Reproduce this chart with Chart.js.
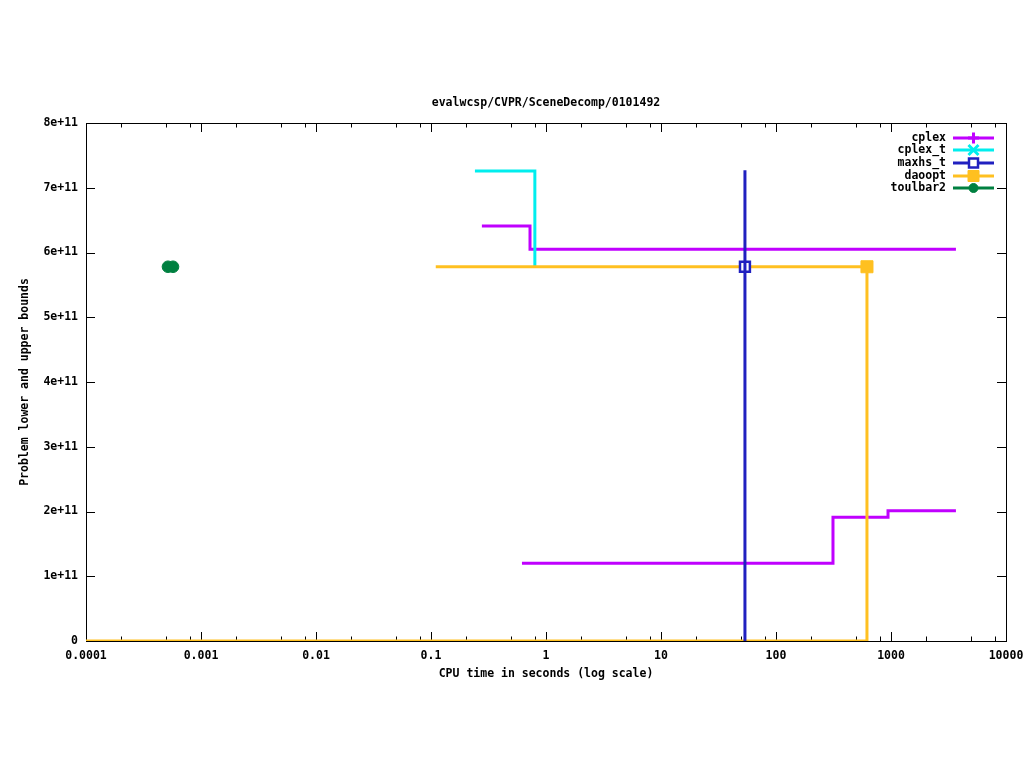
<!DOCTYPE html>
<html>
<head>
<meta charset="utf-8">
<title>evalwcsp/CVPR/SceneDecomp/0101492</title>
<script src="https://cdn.jsdelivr.net/npm/chart.js@4.4.0/dist/chart.umd.min.js"></script>
<style>
  html, body { margin: 0; padding: 0; background: #fff; }
  canvas { display: block; }
</style>
</head>
<body>
<canvas id="chart" width="1024" height="768"></canvas>
<script>
// tiempos (s) y cotas
const cplexUbX = [0.277, 0.726, 3670];
const cplexUbY = [6.41e11, 6.05e11, 6.05e11];
const cplexLbX = [0.618, 313, 942, 3670];
const cplexLbY = [1.20e11, 1.91e11, 2.01e11, 2.01e11];
const cplexTUbX = [0.241, 0.80];
const cplexTUbY = [7.26e11, 5.79e11];
const maxhsTX = [53.7, 53.7, 53.7];
const maxhsTY = [0, 5.78e11, 7.27e11];
const daooptUbX = [0.110, 618];
const daooptUbY = [5.78e11, 5.78e11];
const daooptLbX = [0.0001, 618, 618];
const daooptLbY = [0, 0, 5.78e11];
const toulbar2X = [0.000516, 0.000571];
const toulbar2Y = [5.78e11, 5.78e11];

const xTickLabels = ['0.0001', '0.001', '0.01', '0.1', '1', '10', '100', '1000', '10000'];
const yTickLabels = ['0', '1e+11', '2e+11', '3e+11', '4e+11', '5e+11', '6e+11', '7e+11', '8e+11'];
const xTickValues = xTickLabels.map(Number);
const yTickValues = yTickLabels.map(Number);

const seriesNames = ['cplex', 'cplex_t', 'maxhs_t', 'daoopt', 'toulbar2'];
const seriesColors = ['#c000ff', '#00eeee', '#2020c0', '#ffc020', '#008040'];

const FONT = 'DejaVu Sans Mono';
const FSIZE = 11.5;

function pts(xs, ys) {
    return xs.map((x, i) => ({x: x, y: ys[i]}));
}

// en Chart.js 'before' = horizontal primero, luego el salto vertical
function lineSet(label, color, xs, ys, order, extra) {
    return Object.assign({
        label: label,
        data: pts(xs, ys),
        borderColor: color,
        backgroundColor: color,
        borderWidth: 3,
        stepped: 'before',
        pointRadius: 0,
        fill: false,
        order: order
    }, extra || {});
}

const datasets = [
    lineSet('cplex', seriesColors[0], cplexUbX, cplexUbY, 10),
    lineSet('cplex', seriesColors[0], cplexLbX, cplexLbY, 9),
    lineSet('cplex_t', seriesColors[1], cplexTUbX, cplexTUbY, 8),
    lineSet('daoopt', seriesColors[3], daooptUbX, daooptUbY, 7),
    lineSet('daoopt', seriesColors[3], daooptLbX, daooptLbY, 6, {
        pointRadius: [0, 0, 8.5], pointStyle: 'rect',
        pointBackgroundColor: seriesColors[3], pointBorderColor: seriesColors[3], pointBorderWidth: 1
    }),
    // marcador maxhs_t (cuadro hueco)
    lineSet('maxhs_t', seriesColors[2], [maxhsTX[1]], [maxhsTY[1]], 5, {
        showLine: false, pointRadius: 7, pointStyle: 'rect',
        pointBackgroundColor: '#fff', pointBorderColor: seriesColors[2], pointBorderWidth: 2.5
    }),
    lineSet('maxhs_t', seriesColors[2], maxhsTX, maxhsTY, 4),
    lineSet('toulbar2', seriesColors[4], toulbar2X, toulbar2Y, 3, {
        showLine: false, pointRadius: 5.8, pointStyle: 'circle',
        pointBackgroundColor: seriesColors[4], pointBorderColor: seriesColors[4], pointBorderWidth: 1
    })
];

function marker(ctx, style, x, y, r, color, filled) {
    ctx.save();
    ctx.strokeStyle = color;
    ctx.fillStyle = filled ? color : '#fff';
    ctx.beginPath();
    if (style === 'cross') {
        ctx.lineWidth = 3;
        ctx.moveTo(x - r, y); ctx.lineTo(x + r, y);
        ctx.moveTo(x, y - r); ctx.lineTo(x, y + r);
        ctx.stroke();
    } else if (style === 'crossRot') {
        ctx.lineWidth = 3;
        ctx.moveTo(x - r, y - r); ctx.lineTo(x + r, y + r);
        ctx.moveTo(x - r, y + r); ctx.lineTo(x + r, y - r);
        ctx.stroke();
    } else if (style === 'rect') {
        ctx.lineWidth = filled ? 1 : 2.5;
        ctx.rect(x - r, y - r, 2 * r, 2 * r);
        ctx.fill();
        ctx.stroke();
    } else {
        ctx.lineWidth = 1;
        ctx.arc(x, y, r, 0, Math.PI * 2);
        ctx.fill();
        ctx.stroke();
    }
    ctx.restore();
}

// marco y marcas hacia dentro, estilo gnuplot
const framePlugin = {
    id: 'frame',
    beforeDatasetsDraw(chart) {
        const {ctx, chartArea: a, scales} = chart;
        ctx.save();
        ctx.strokeStyle = '#000';
        ctx.lineWidth = 1;
        ctx.strokeRect(a.left + 0.5, a.top + 0.5, a.right - a.left, a.bottom - a.top);
        ctx.beginPath();
        xTickValues.forEach(v => {
            const px = Math.round(scales.x.getPixelForValue(v)) + 0.5;
            ctx.moveTo(px, a.bottom); ctx.lineTo(px, a.bottom - 9);
            ctx.moveTo(px, a.top); ctx.lineTo(px, a.top + 9);
            if (v < 10000) {
                [2, 5, 8].forEach(m => {
                    const mx = Math.round(scales.x.getPixelForValue(v * m)) + 0.5;
                    ctx.moveTo(mx, a.bottom); ctx.lineTo(mx, a.bottom - 4.5);
                    ctx.moveTo(mx, a.top); ctx.lineTo(mx, a.top + 4.5);
                });
            }
        });
        yTickValues.forEach(v => {
            const py = Math.round(scales.y.getPixelForValue(v)) + 0.5;
            ctx.moveTo(a.left, py); ctx.lineTo(a.left + 9, py);
            ctx.moveTo(a.right, py); ctx.lineTo(a.right - 9, py);
        });
        ctx.stroke();
        ctx.restore();
    }
};

const legendPlugin = {
    id: 'gpLegend',
    afterDraw(chart) {
        const ctx = chart.ctx;
        const styles = ['cross', 'crossRot', 'rect', 'rect', 'circle'];
        const sizes = [5.5, 5, 4.5, 5.5, 4.5];
        const filled = [true, true, false, true, true];
        ctx.save();
        ctx.font = 'bold ' + FSIZE + 'px "' + FONT + '"';
        ctx.textAlign = 'right';
        ctx.textBaseline = 'middle';
        seriesNames.forEach((name, i) => {
            const y = Math.round(137.5 + i * 12.7);
            ctx.fillStyle = '#000';
            ctx.fillText(name, 946, y);
            ctx.strokeStyle = seriesColors[i];
            ctx.lineWidth = 3;
            ctx.beginPath();
            ctx.moveTo(953, y); ctx.lineTo(994, y);
            ctx.stroke();
            marker(ctx, styles[i], 973.5, y, sizes[i], seriesColors[i], filled[i]);
        });
        ctx.restore();
    }
};

const tickFont = { family: FONT, size: FSIZE, weight: 'bold' };

new Chart(document.getElementById('chart'), {
    type: 'line',
    data: { datasets: datasets },
    plugins: [framePlugin, legendPlugin],
    options: {
        responsive: false,
        devicePixelRatio: 1,
        animation: false,
        layout: { padding: { left: 0, right: 18, top: 0, bottom: 0 } },
        plugins: {
            legend: { display: false },
            tooltip: { enabled: false },
            title: {
                display: true,
                fullSize: false,
                text: 'evalwcsp/CVPR/SceneDecomp/0101492',
                color: '#000',
                font: tickFont,
                padding: { top: 96.5, bottom: 12.7 }
            }
        },
        scales: {
            x: {
                type: 'logarithmic',
                min: 1e-4,
                max: 1e4,
                afterBuildTicks: s => { s.ticks = xTickValues.map(v => ({value: v, major: true})); },
                afterFit: s => { s.height = 127; s.paddingLeft = 0; s.paddingRight = 0; },
                grid: { display: false, drawTicks: false },
                border: { display: false },
                ticks: {
                    autoSkip: false, maxRotation: 0, padding: 8, color: '#000',
                    font: tickFont,
                    callback: (v, i) => xTickLabels[i]
                },
                title: {
                    display: true,
                    text: 'CPU time in seconds (log scale)',
                    color: '#000',
                    font: tickFont,
                    padding: { top: 0, bottom: 87 }
                }
            },
            y: {
                type: 'linear',
                min: 0,
                max: 8e11,
                afterBuildTicks: s => { s.ticks = yTickValues.map(v => ({value: v})); },
                afterFit: s => { s.width = 86; s.paddingTop = 0; s.paddingBottom = 0; },
                grid: { display: false, drawTicks: false },
                border: { display: false },
                ticks: {
                    autoSkip: false, padding: 8, color: '#000',
                    font: tickFont,
                    callback: (v, i) => yTickLabels[i]
                },
                title: {
                    display: true,
                    text: 'Problem lower and upper bounds',
                    color: '#000',
                    font: tickFont,
                    padding: { top: 18.5, bottom: 0 }
                }
            }
        }
    }
});
</script>
</body>
</html>
